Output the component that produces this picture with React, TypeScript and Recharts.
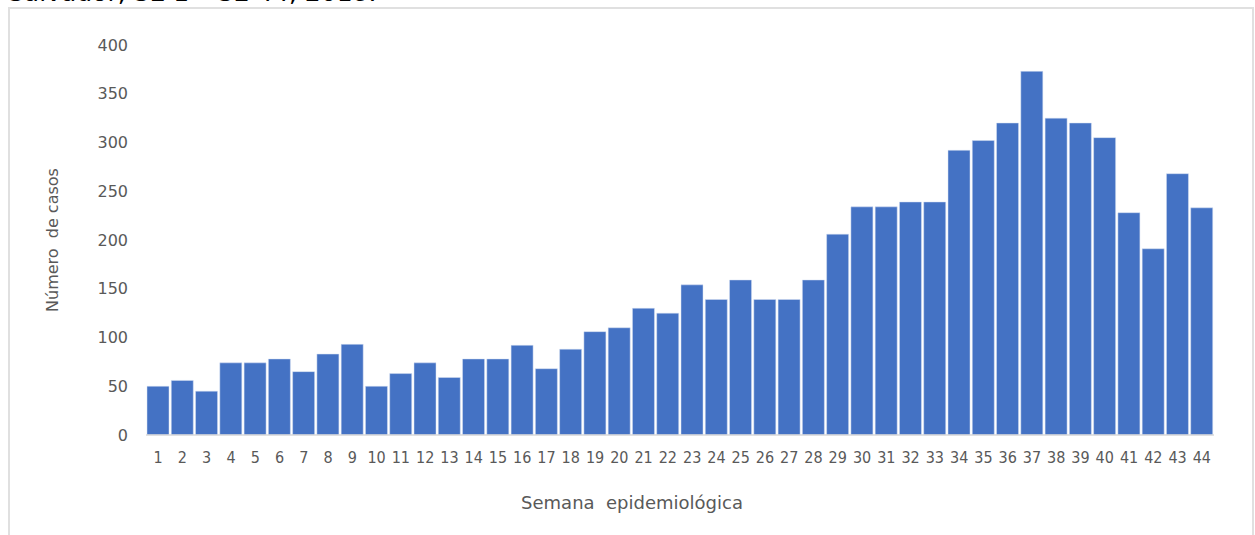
import { BarChart, Bar, XAxis, YAxis, Label } from 'recharts';

const weeks = [
    '1', '2', '3', '4', '5', '6', '7', '8', '9', '10', '11',
    '12', '13', '14', '15', '16', '17', '18', '19', '20', '21', '22',
    '23', '24', '25', '26', '27', '28', '29', '30', '31', '32', '33',
    '34', '35', '36', '37', '38', '39', '40', '41', '42', '43', '44',
];

const cases = [
    50, 56, 45, 74, 74, 78, 65, 83, 93, 50, 63,
    74, 59, 78, 78, 92, 68, 88, 106, 110, 130, 125,
    154, 139, 159, 139, 139, 159, 206, 234, 234, 239, 239,
    292, 302, 320, 373, 325, 320, 305, 228, 191, 268, 233,
];

const yTicks = [0, 50, 100, 150, 200, 250, 300, 350, 400];

const titleText = 'Salvador, SE 1 – SE 44, 2018.';
const xTitle = 'Semana  epidemiológica';
const yTitle = 'Número  de casos';

const data = weeks.map((w, i) => ({ week: w, casos: cases[i] }));

const textColor = '#595959';

export default function App() {
    return (
        <div style={{ position: 'fixed', left: 0, top: 0, width: 1255, height: 535, overflow: 'hidden', background: '#fff' }}>
            {/* title sits mostly above the page edge, only its bottom shows */}
            <div
                style={{
                    position: 'absolute',
                    left: 8,
                    top: -21,
                    fontFamily: 'DejaVu Sans, sans-serif',
                    fontSize: 25,
                    lineHeight: '28px',
                    color: '#000',
                    whiteSpace: 'nowrap',
                }}
            >
                {titleText}
            </div>
            <div
                style={{
                    position: 'absolute',
                    left: 8,
                    top: 7,
                    width: 1242,
                    height: 560,
                    border: '2px solid #e0e0e0',
                }}
            />
            <div style={{ position: 'absolute', left: 0, top: 0 }}>
                <BarChart
                    width={1255}
                    height={535}
                    data={data}
                    margin={{ top: 45, right: 41, bottom: 20, left: 46 }}
                    barCategoryGap={1}
                >
                    <XAxis
                        dataKey="week"
                        height={80}
                        interval={0}
                        tickLine={false}
                        tickMargin={11}
                        axisLine={{ stroke: '#d9d9d9', strokeWidth: 1.5 }}
                        tick={{ fontSize: 16, fill: textColor, fontFamily: 'DejaVu Sans Condensed, DejaVu Sans, sans-serif' }}
                    >
                        <Label
                            content={({ viewBox }: any) => (
                                <text
                                    x={viewBox.x + viewBox.width / 2 - 48}
                                    y={viewBox.y + 74}
                                    textAnchor="middle"
                                    fontSize={18}
                                    fill={textColor}
                                    fontFamily="DejaVu Sans, sans-serif"
                                    style={{ whiteSpace: 'pre' }}
                                >
                                    {xTitle}
                                </text>
                            )}
                        />
                    </XAxis>
                    <YAxis
                        width={100}
                        domain={[0, 400]}
                        ticks={yTicks}
                        interval={0}
                        axisLine={false}
                        tickLine={false}
                        tickMargin={12}
                        tick={{ fontSize: 16, fill: textColor, fontFamily: 'DejaVu Sans, sans-serif' }}
                    >
                        <Label
                            content={({ viewBox }: any) => {
                                const cx = 52;
                                const cy = viewBox.y + viewBox.height / 2;
                                return (
                                    <text
                                        x={cx}
                                        y={cy}
                                        textAnchor="middle"
                                        dominantBaseline="central"
                                        transform={`rotate(-90 ${cx} ${cy})`}
                                        fontSize={16}
                                        fill={textColor}
                                        fontFamily="DejaVu Sans, sans-serif"
                                        style={{ whiteSpace: 'pre' }}
                                    >
                                        {yTitle}
                                    </text>
                                );
                            }}
                        />
                    </YAxis>
                    <Bar dataKey="casos" fill="#4472C4" stroke="#d6e0f3" strokeWidth={0.5} isAnimationActive={false} />
                </BarChart>
            </div>
        </div>
    );
}
